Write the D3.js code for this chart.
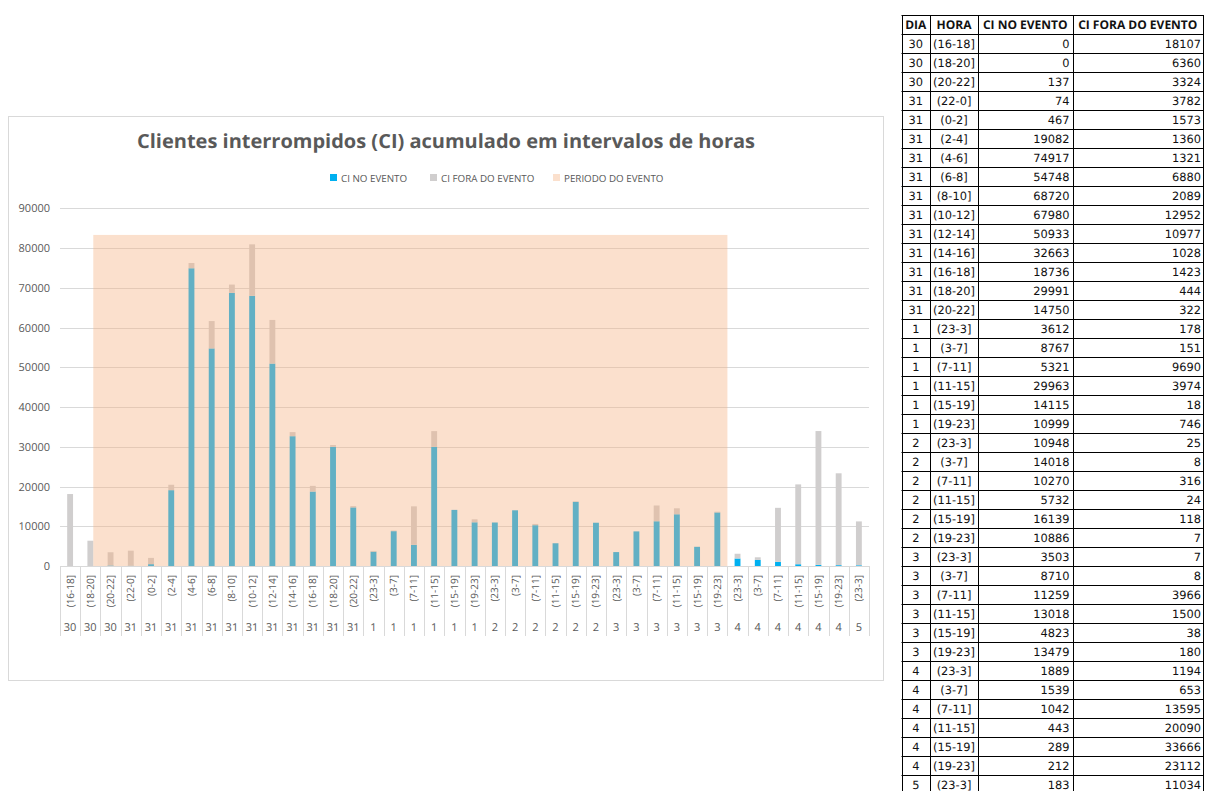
<!DOCTYPE html>
<html lang="pt">
<head>
<meta charset="UTF-8">
<title>Clientes interrompidos</title>
<style>
  body { margin: 0; background: #fff; }
  svg { display: block; }
  text { text-rendering: geometricPrecision; }
  .tick-y { font-family: "Open Sans", sans-serif; font-size: 11px; fill: #595959; }
  .cat { font-family: "Open Sans", sans-serif; font-size: 10px; fill: #595959; }
  .day { font-family: "Open Sans", sans-serif; font-size: 11px; fill: #595959; }
  .leg { font-family: "Open Sans", sans-serif; font-size: 9.8px; fill: #595959; }
  .tbl { font-family: "DejaVu Sans", sans-serif; font-size: 11.4px; fill: #111; }
  .tblh { font-family: "Open Sans", sans-serif; font-size: 12px; font-weight: bold; fill: #111; }
</style>
</head>
<body>
<script src="https://cdn.jsdelivr.net/npm/d3@7"></script>
<script>
var dias = ["30","30","30","31","31","31","31","31","31","31","31","31","31","31","31",
            "1","1","1","1","1","1","2","2","2","2","2","2","3","3","3","3","3","3",
            "4","4","4","4","4","4","5"];
var horas = ["(16-18]","(18-20]","(20-22]","(22-0]","(0-2]","(2-4]","(4-6]","(6-8]","(8-10]","(10-12]",
             "(12-14]","(14-16]","(16-18]","(18-20]","(20-22]",
             "(23-3]","(3-7]","(7-11]","(11-15]","(15-19]","(19-23]",
             "(23-3]","(3-7]","(7-11]","(11-15]","(15-19]","(19-23]",
             "(23-3]","(3-7]","(7-11]","(11-15]","(15-19]","(19-23]",
             "(23-3]","(3-7]","(7-11]","(11-15]","(15-19]","(19-23]","(23-3]"];
var ciNoEvento = [0,0,137,74,467,19082,74917,54748,68720,67980,50933,32663,18736,29991,14750,
                  3612,8767,5321,29963,14115,10999,10948,14018,10270,5732,16139,10886,
                  3503,8710,11259,13018,4823,13479,1889,1539,1042,443,289,212,183];
var ciForaEvento = [18107,6360,3324,3782,1573,1360,1321,6880,2089,12952,10977,1028,1423,444,322,
                    178,151,9690,3974,18,746,25,8,316,24,118,7,7,8,3966,1500,38,180,
                    1194,653,13595,20090,33666,23112,11034];
var yTicks = [0,10000,20000,30000,40000,50000,60000,70000,80000,90000];
// event period band: from (18-20] of day 30 to (19-23] of day 3
var periodoInicio = 1, periodoFim = 32, periodoValor = 83300;

var titulo = "Clientes interrompidos (CI) acumulado em intervalos de horas";
var legenda = ["CI NO EVENTO", "CI FORA DO EVENTO", "PERIODO DO EVENTO"];
var cores = ["#00b0f0", "#d0cece", "#f4b183"];

var W = 1205, H = 791;
var svg = d3.select("body").append("svg").attr("width", W).attr("height", H);

// chart frame
svg.append("rect").attr("x", 8.5).attr("y", 116.5).attr("width", 875).attr("height", 564)
  .attr("fill", "#fff").attr("stroke", "#d9d9d9");

var idx = d3.range(horas.length);
var x = d3.scaleBand().domain(idx).range([60, 869]);
var y = d3.scaleLinear().domain([0, 90000]).range([566, 208.3]);
var bw = x.bandwidth(), barW = bw * 0.29;

// gridlines + y labels
svg.append("g").selectAll("line").data(yTicks).join("line")
  .attr("x1", 60).attr("x2", 869)
  .attr("y1", d => Math.round(y(d)) + 0.5).attr("y2", d => Math.round(y(d)) + 0.5)
  .attr("stroke", "#d9d9d9");
svg.append("g").selectAll("text").data(yTicks).join("text")
  .attr("class", "tick-y").attr("x", 50).attr("y", d => y(d) + 4)
  .attr("text-anchor", "end").text(d => d);

// stacked bars
var series = d3.stack().keys([0, 1]).value((d, k) => k === 0 ? ciNoEvento[d] : ciForaEvento[d])(idx);
svg.append("g").selectAll("g").data(series).join("g")
  .attr("fill", (s, i) => cores[i])
  .selectAll("rect").data(s => s).join("rect")
  .attr("x", d => x(d.data) + bw / 2 - barW / 2)
  .attr("width", barW)
  .attr("y", d => y(d[1]))
  .attr("height", d => y(d[0]) - y(d[1]));

// event period overlay
var px0 = x(periodoInicio) + bw / 2 + barW / 2;
var px1 = x(periodoFim) + bw;
svg.append("rect").attr("x", px0).attr("width", px1 - px0)
  .attr("y", y(periodoValor)).attr("height", y(0) - y(periodoValor))
  .attr("fill", cores[2]).attr("fill-opacity", 0.4);

// category axis
var ax = svg.append("g");
ax.append("line").attr("x1", 60).attr("x2", 869).attr("y1", 566.5).attr("y2", 566.5).attr("stroke", "#d9d9d9");
ax.selectAll("line.div").data(d3.range(horas.length + 1)).join("line").attr("class", "div")
  .attr("x1", i => Math.round(60 + i * bw) + 0.5).attr("x2", i => Math.round(60 + i * bw) + 0.5)
  .attr("y1", 566).attr("y2", 636).attr("stroke", "#d9d9d9");
ax.selectAll("text.cat").data(idx).join("text").attr("class", "cat")
  .attr("transform", i => "translate(" + (x(i) + bw / 2 + 3.5) + ",575) rotate(-90)")
  .attr("text-anchor", "end").text(i => horas[i]);
ax.selectAll("text.day").data(idx).join("text").attr("class", "day")
  .attr("x", i => x(i) + bw / 2).attr("y", 631).attr("text-anchor", "middle").text(i => dias[i]);

// title
svg.append("text").attr("x", 446).attr("y", 148).attr("text-anchor", "middle")
  .attr("font-family", "Open Sans, sans-serif").attr("font-size", 19.5).attr("font-weight", "bold")
  .attr("fill", "#595959").attr("textLength", 618).attr("lengthAdjust", "spacingAndGlyphs")
  .text(titulo);

// legend
var legX = [330, 430, 553];
var lg = svg.append("g").selectAll("g").data(legenda).join("g")
  .attr("transform", (d, i) => "translate(" + legX[i] + ",174)");
lg.append("rect").attr("width", 7).attr("height", 7)
  .attr("fill", (d, i) => cores[i]).attr("fill-opacity", (d, i) => i === 2 ? 0.4 : 1);
lg.append("text").attr("class", "leg").attr("x", 11).attr("y", 7.5).text(d => d);

// data table
var cols = [901.5, 930, 978, 1072.5, 1203];
var head = ["DIA", "HORA", "CI NO EVENTO", "CI FORA DO EVENTO"];
var top0 = 15, hH = 19, rH = 19;
var tb = svg.append("g");
var nRows = horas.length;
var rowY = d3.range(nRows + 1).map(r => top0 + hH + r * rH);
tb.selectAll("line.h").data([top0].concat(rowY)).join("line").attr("class", "h")
  .attr("x1", cols[0]).attr("x2", cols[4])
  .attr("y1", d => Math.round(d) + 0.5).attr("y2", d => Math.round(d) + 0.5)
  .attr("stroke", "#000");
tb.selectAll("line.v").data(cols).join("line").attr("class", "v")
  .attr("x1", d => Math.round(d) + 0.5).attr("x2", d => Math.round(d) + 0.5)
  .attr("y1", top0).attr("y2", rowY[nRows]).attr("stroke", "#000");
tb.selectAll("text.hd").data(head).join("text").attr("class", "tblh")
  .attr("x", (d, i) => (cols[i] + cols[i + 1]) / 2).attr("y", top0 + 14)
  .attr("text-anchor", "middle").text(d => d);
var rows = tb.selectAll("g.row").data(idx).join("g").attr("class", "row")
  .attr("transform", i => "translate(0," + (rowY[i] + 14) + ")");
rows.append("text").attr("class", "tbl").attr("x", (cols[0] + cols[1]) / 2).attr("text-anchor", "middle").text(i => dias[i]);
rows.append("text").attr("class", "tbl").attr("x", (cols[1] + cols[2]) / 2).attr("text-anchor", "middle").text(i => horas[i]);
rows.append("text").attr("class", "tbl").attr("x", cols[3] - 3).attr("text-anchor", "end").text(i => ciNoEvento[i]);
rows.append("text").attr("class", "tbl").attr("x", cols[4] - 2).attr("text-anchor", "end").text(i => ciForaEvento[i]);
</script>
</body>
</html>
